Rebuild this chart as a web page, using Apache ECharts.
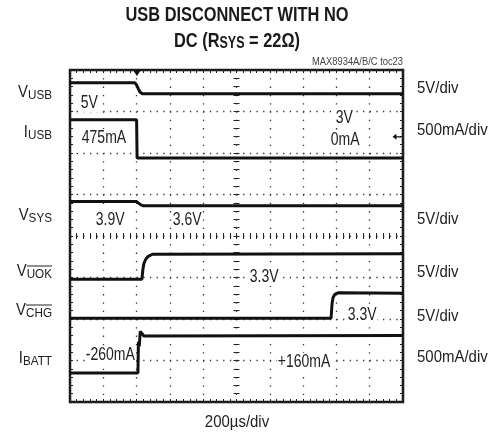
<!DOCTYPE html>
<html><head><meta charset="utf-8">
<script src="https://cdn.jsdelivr.net/npm/echarts@6/dist/echarts.min.js"></script>
<style>html,body{margin:0;padding:0;background:#fff}#c{width:495px;height:436px}</style>
</head><body><div id="c"></div>
<script>
// ---------- data (time in µs, level in screen divisions, centre = 0) ----------
const timeMinUs = -1000, timeMaxUs = 1000, timePerDivUs = 200;
const divMin = -4, divMax = 4;
const titleLine1 = 'USB DISCONNECT WITH NO';
const titleLine2 = 'DC (R{s|SYS} = 22Ω)';
const footnote = 'MAX8934A/B/C toc23';
const timebaseLabel = '200µs/div';

const vusb  = [[-1000,3.69],[-610,3.69],[-600,3.64],[-590,3.55],[-580,3.47],[-566,3.43],[1000,3.43]];
const iusb  = [[-1000,2.80],[-600,2.80],[-597,1.88],[1000,1.88]];
const vsys  = [[-1000,0.83],[-600,0.83],[-590,0.79],[-575,0.75],[-560,0.73],[1000,0.73]];
const vuok  = [[-1000,-1.04],[-568,-1.04],[-562,-0.80],[-556,-0.66],[-545,-0.56],[-530,-0.49],[-505,-0.44],[1000,-0.43]];
const vchg  = [[-1000,-1.98],[568,-1.98],[574,-1.62],[580,-1.48],[592,-1.40],[610,-1.37],[1000,-1.38]];
const ibatt = [[-1000,-3.30],[-592,-3.30],[-589,-2.55],[-584,-2.66],[-578,-2.30],[-567,-2.32],[-556,-2.41],[1000,-2.40]];

const channelMain = ['V','I','V','V','V','I'];
const channelSub  = ['USB','USB','SYS','UOK','CHG','BATT'];
const channelScale = ['5V/div','500mA/div','5V/div','5V/div','5V/div','500mA/div'];
const levelTexts = ['5V','475mA','3.9V','3.6V','3V','0mA','3.3V','3.3V','-260mA','+160mA'];
const triggerTimeUs = -598;
const groundMarker = [964, 2.39];

// ---------- layout / style ----------
const FONT = '"Liberation Sans",Arial,Helvetica,sans-serif';
const G = {left:70, top:70, width:333, height:332};
const chLabelY = [92,132,215,271,310,358];
const scaleLabelY = [88,130,219,272,316,357];
const levelPos = [[80,103],[81,138],[95,220],[172,220],[335,118],[330,140],[249,277],[347,315],[85,355],[277,362]];
const overlined = {3:[27,266], 4:[26,305]};

const tickStyle = {color:'#222', width:1};
function xAx(position, onZero, split){
  return {type:'value', min:timeMinUs, max:timeMaxUs, interval:timePerDivUs, position,
    axisLine:{show:false, onZero}, axisLabel:{show:false},
    axisTick:{show:true, inside:true, length:3, lineStyle:tickStyle},
    minorTick:{show:true, splitNumber:5, length:3, lineStyle:tickStyle},
    splitLine: split ? {show:true, lineStyle:{color:'#333', width:1.3, type:[1.3,7.0]}} : {show:false}};
}
function yAx(position, onZero, split){
  return {type:'value', min:divMin, max:divMax, interval:1, position,
    axisLine:{show:false, onZero}, axisLabel:{show:false},
    axisTick:{show:true, inside:true, length:3, lineStyle:tickStyle},
    minorTick:{show:true, splitNumber:5, length:3, lineStyle:tickStyle},
    splitLine: split ? {show:true, lineStyle:{color:'#333', width:1.3, type:[1.3,5.36]}} : {show:false}};
}

const traces = [vusb, iusb, vsys, vuok, vchg, ibatt];
const series = traces.map((d,i) => ({
  type:'line', data:d, xAxisIndex:0, yAxisIndex:0, showSymbol:false, silent:true,
  lineStyle:{color:'#111', width:3}, z:5, animation:false
}));
series[0].markPoint = {silent:true, animation:false, label:{show:false},
  data:[{coord:[triggerTimeUs, divMax], symbol:'path://M0,0 L10,0 L5,7 Z', symbolSize:[8,6], symbolOffset:[0,3], itemStyle:{color:'#111'}}]};
series[1].markPoint = {silent:true, animation:false, label:{show:false},
  data:[{coord:groundMarker, symbol:'path://M0,5 L7,0 L7,10 Z M7,4 L16,4 L16,6 L7,6 Z', symbolSize:[9,6], itemStyle:{color:'#111'}}]};

const graphics = [];
function txt(text, x, y, size, align, sx, extra){
  return {type:'text', z:10, silent:true, x, y, scaleX:sx, scaleY:1,
    style:Object.assign({text, x:0, y:0, fontSize:size, fontFamily:FONT, fill:'#222',
      align, textAlign:align, verticalAlign:'middle', textVerticalAlign:'middle'}, extra||{})};
}
graphics.push(txt(titleLine1, 237, 15, 21, 'center', 0.78, {fontWeight:'bold', fill:'#1a1a1a'}));
graphics.push(txt(titleLine2, 237, 41, 21, 'center', 0.78, {fontWeight:'bold', fill:'#1a1a1a',
  rich:{s:{fontSize:16, fontWeight:'bold', fontFamily:FONT, padding:[6,0,0,0]}}}));
graphics.push(txt(footnote, 403, 62, 11, 'right', 0.85, {fill:'#444'}));
graphics.push(txt(timebaseLabel, 237, 422, 17, 'center', 0.88));
channelMain.forEach((m,i) => {
  graphics.push(txt(m + '{s|' + channelSub[i] + '}', 52, chLabelY[i], 16.5, 'right', 0.9,
    {rich:{s:{fontSize:13, fontFamily:FONT, padding:[6,0,0,0]}}}));
  graphics.push(txt(channelScale[i], 417, scaleLabelY[i], 17, 'left', 0.88));
  if (overlined[i]) {
    const [x0,y0] = overlined[i];
    graphics.push({type:'line', z:10, silent:true, shape:{x1:x0, y1:y0, x2:52, y2:y0}, style:{stroke:'#222', lineWidth:1}});
  }
});
levelTexts.forEach((t,i) => {
  graphics.push(txt(t, levelPos[i][0], levelPos[i][1], 17.5, 'left', 0.8, {backgroundColor:'#fff', padding:[0,1]}));
});

const chart = echarts.init(document.getElementById('c'), null, {renderer:'canvas'});
chart.setOption({
  animation:false,
  backgroundColor:'#fff',
  grid:{show:true, left:G.left, top:G.top, width:G.width, height:G.height, borderColor:'#1a1a1a', borderWidth:2.5, backgroundColor:'#fff'},
  xAxis:[xAx('bottom', false, true), xAx('top', false, false), xAx('bottom', true, false), xAx('top', true, false)],
  yAxis:[yAx('left', false, true), yAx('right', false, false), yAx('left', true, false), yAx('right', true, false)],
  series,
  graphic:graphics
});
</script></body></html>
